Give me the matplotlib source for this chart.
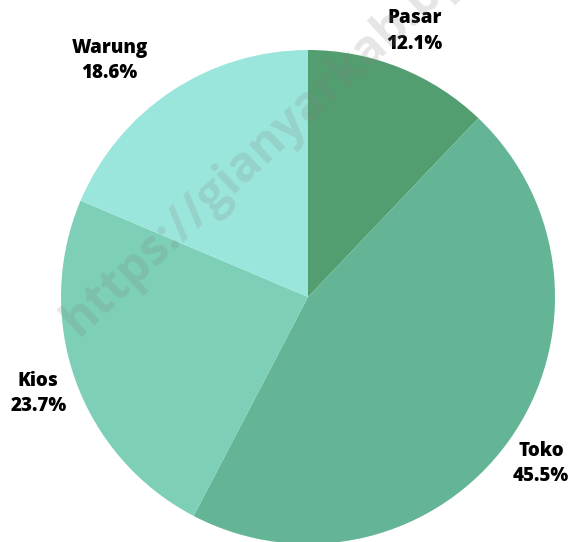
import numpy as np
import matplotlib.pyplot as plt

# data
labels = ['Pasar', 'Toko', 'Kios', 'Warung']
shares = [12.1, 45.5, 23.7, 18.6]
colors = ['#529e70', '#64b595', '#7dcfb8', '#9be6dc']

plt.rcParams['font.family'] = ['Open Sans', 'DejaVu Sans']

fig = plt.figure(figsize=(5.74, 5.42), dpi=100)
ax = fig.add_axes([0, 0, 1, 1])

cx, cy, r = 308, 245, 247
wedges, _ = ax.pie(shares, colors=colors, startangle=90, counterclock=False,
                   center=(cx, cy), radius=r, frame=True,
                   wedgeprops=dict(linewidth=0))
ax.set_xlim(0, 574)
ax.set_ylim(0, 542)
ax.set_aspect('equal')
ax.axis('off')

# watermark
ax.text(78, 205, 'https://gianyarkab.bps.go.id', rotation=43, rotation_mode='anchor',
        fontsize=35, fontweight='bold', color='#808080', alpha=0.2,
        ha='left', va='baseline', zorder=5)

# labels
for w, lab, val in zip(wedges, labels, shares):
    mid = np.deg2rad((w.theta1 + w.theta2) / 2)
    dist = 1.16
    if lab == 'Warung':
        mid = np.deg2rad(130)
        dist = 1.25
    x = cx + r * dist * np.cos(mid)
    y = cy + r * dist * np.sin(mid)
    ax.text(x, y, f'{lab}\n{val}%', ha='center', va='center', fontsize=13.5,
            fontweight='heavy', color='black', linespacing=1.35)

fig.savefig('out.png', dpi=100)
